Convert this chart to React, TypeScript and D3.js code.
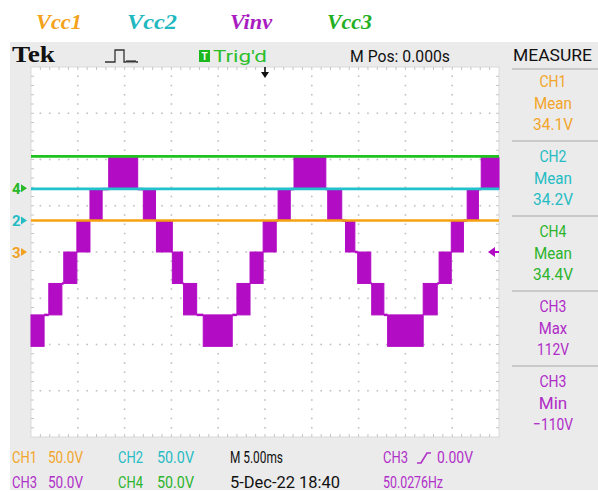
import React from 'react';
import * as d3 from 'd3';

const W = 598;
const H = 492;

// Scope settings
const timeDomainMs: [number, number] = [-25, 25]; // 5 ms/div, 10 divisions, M Pos 0
const voltsPerDiv = 50;
const hDivs = 10;
const vDivs = 8;

// DC supply channels (mean values and ground reference in screen volts)
const dcNames = ['CH1', 'CH2', 'CH4'];
const dcMeans = [34.1, 34.2, 34.4];
const dcGroundV = [0, 34, 69];
const dcMarkers = ['3', '2', '4'];
const dcColors = ['#f5a20f', '#22c2cc', '#1fc21f'];
const markerColors = ['#f2a020', '#26bcc4', '#28b828'];

// Multilevel inverter output (CH3): PWM bands between level k and k+1
const levelVolts = 34;
const stepStartMs = [-25.0, -23.1, -21.5, -20.1, -18.7, -16.7, -13.0, -11.6, -9.9, -8.7, -6.6, -3.0, -1.6, -0.2, 1.4, 3.1, 6.7, 8.6, 9.9, 11.4, 13.1, 16.9, 18.6, 19.9, 21.6, 23.1];
const stepEndMs = [-23.6, -21.7, -20.1, -18.7, -17.4, -13.6, -11.7, -9.9, -8.8, -7.3, -3.5, -1.6, -0.2, 1.2, 2.7, 6.5, 8.2, 9.6, 11.3, 12.7, 16.9, 18.4, 19.9, 21.2, 22.8, 25.0];
const stepLowLevel = [-3, -2, -1, 0, 1, 2, 1, 0, -1, -2, -3, -2, -1, 0, 1, 2, 1, 0, -1, -2, -3, -2, -1, 0, 1, 2];

// Legend labels above the screen
const legendLabels = ['Vcc1', 'Vcc2', 'Vinv', 'Vcc3'];
const legendColors = ['#f4a21a', '#22b8c0', '#a81cc0', '#22b022'];

// Measurements
const measureChannels = ['CH1', 'CH2', 'CH4', 'CH3', 'CH3'];
const measureTypes = ['Mean', 'Mean', 'Mean', 'Max', 'Min'];
const measureValues = ['34.1V', '34.2V', '34.4V', '112V', '\u2212110V'];
const measureColors = ['#f2a52a', '#26bcc4', '#2cb42c', '#b02cc8', '#b02cc8'];

const PURPLE = '#b20cc4';
const PURPLE_TXT = '#b030c8';
const FONT = 'Roboto, "Liberation Sans", sans-serif';

export default function App() {
  const left = 31, right = 499, top = 67, bottom = 437;
  const x = d3.scaleLinear().domain(timeDomainMs).range([left, right]);
  const y = d3.scaleLinear().domain([-voltsPerDiv * vDivs / 2, voltsPerDiv * vDivs / 2]).range([bottom, top]);

  const divW = (right - left) / hDivs;
  const divH = (bottom - top) / vDivs;

  const dots: JSX.Element[] = [];
  for (let i = 1; i < hDivs; i++) {
    const gx = left + i * divW;
    for (let j = 1; j < vDivs * 5; j++) {
      const gy = top + (j * divH) / 5;
      dots.push(<rect key={`v${i}-${j}`} x={gx - 0.8} y={gy - 0.8} width={1.6} height={1.6} fill="#c0c0c0" />);
    }
  }
  for (let j = 1; j < vDivs; j++) {
    const gy = top + j * divH;
    for (let i = 1; i < hDivs * 5; i++) {
      if (i % 5 === 0) continue;
      const gx = left + (i * divW) / 5;
      dots.push(<rect key={`h${j}-${i}`} x={gx - 0.8} y={gy - 0.8} width={1.6} height={1.6} fill="#c0c0c0" />);
    }
  }
  const ticks: JSX.Element[] = [];
  for (let i = 1; i < hDivs * 5; i++) {
    const gx = left + (i * divW) / 5;
    ticks.push(<line key={`tt${i}`} x1={gx} x2={gx} y1={top} y2={top + 3} stroke="#c4c4c4" strokeWidth={1} />);
    ticks.push(<line key={`tb${i}`} x1={gx} x2={gx} y1={bottom} y2={bottom - 3} stroke="#c4c4c4" strokeWidth={1} />);
  }
  for (let j = 1; j < vDivs * 5; j++) {
    const gy = top + (j * divH) / 5;
    ticks.push(<line key={`tl${j}`} x1={left} x2={left + 3} y1={gy} y2={gy} stroke="#c4c4c4" strokeWidth={1} />);
    ticks.push(<line key={`tr${j}`} x1={right} x2={right - 3} y1={gy} y2={gy} stroke="#c4c4c4" strokeWidth={1} />);
  }

  const connectors: [number, number, number][] = [];
  for (let i = 0; i < stepStartMs.length - 1; i++) {
    const shared = stepLowLevel[i + 1] > stepLowLevel[i] ? stepLowLevel[i + 1] : stepLowLevel[i];
    connectors.push([stepEndMs[i], stepStartMs[i + 1], shared]);
  }
  const line = d3.line<[number, number]>().x((d) => d[0]).y((d) => d[1]);

  const slopeIcon = 'M417,463 L421,463 L427,453 L431,453';

  return (
    <svg width={W} height={H} style={{ position: 'absolute', left: 0, top: 0, background: '#fff' }} fontFamily={FONT}>
      <rect x={0} y={0} width={W} height={H} fill="#ffffff" />
      {legendLabels.map((l, i) => (
        <text key={l} x={[36, 127, 230, 327][i]} y={29} fill={legendColors[i]} fontFamily='"Liberation Serif", serif' fontStyle="italic" fontWeight="bold" fontSize={21} textLength={[46, 50, 42, 45][i]} lengthAdjust="spacingAndGlyphs">{l}</text>
      ))}

      <rect x={10} y={42} width={W - 10} height={448} fill="#ebebeb" />
      <rect x={left} y={top} width={right - left} height={bottom - top} fill="#ffffff" />
      <rect x={left} y={top} width={right - left} height={bottom - top} fill="none" stroke="#dadada" strokeWidth={1} />
      {dots}
      {ticks}

      <text x={12} y={62} fontFamily='"Liberation Serif", serif' fontWeight="bold" fontSize={23} fill="#111" textLength={43} lengthAdjust="spacingAndGlyphs">Tek</text>
      <path d="M105,62 L115,62 L115,50 L124,50 L124,62 L126,62 Q127,60 128,62 Q129,60 130,62 Q131,60 132,62 Q133,60 134,62 Q135,60 136,62 L138,62" fill="none" stroke="#333" strokeWidth={1.3} />
      <rect x={199} y={50} width={11} height={12} fill="#1db81d" />
      <text x={204.5} y={60} textAnchor="middle" fill="#fff" fontSize={10} fontWeight="bold">T</text>
      <text x={213} y={62} fill="#2cbf2c" fontSize={16} textLength={54} lengthAdjust="spacingAndGlyphs">Trig'd</text>
      <text x={350} y={62} fill="#111" fontSize={16} textLength={100} lengthAdjust="spacingAndGlyphs">M Pos: 0.000s</text>
      <text x={513} y={61} fill="#111" fontSize={16} textLength={79} lengthAdjust="spacingAndGlyphs">MEASURE</text>
      <line x1={x(0)} x2={x(0)} y1={67} y2={73} stroke="#111" strokeWidth={1.6} />
      <path d={`M${x(0) - 4},72 L${x(0) + 4},72 L${x(0)},78 Z`} fill="#111" />

      {/* inverter output */}
      {connectors.map((c, i) => (
        <path key={`c${i}`} d={line([[x(c[0]), y(c[2] * levelVolts)], [x(c[1]), y(c[2] * levelVolts)]])!} stroke={PURPLE} strokeWidth={2.5} fill="none" />
      ))}
      {stepStartMs.map((s, i) => (
        <rect key={`s${i}`} x={x(s)} y={y((stepLowLevel[i] + 1) * levelVolts)} width={x(stepEndMs[i]) - x(s)} height={y(stepLowLevel[i] * levelVolts) - y((stepLowLevel[i] + 1) * levelVolts)} fill={PURPLE} stroke={PURPLE} strokeWidth={1} />
      ))}

      {/* DC traces, drawn over CH3 */}
      {dcNames.map((n, i) => (
        <line key={n} x1={left} x2={right} y1={y(dcGroundV[i] + dcMeans[i])} y2={y(dcGroundV[i] + dcMeans[i])} stroke={dcColors[i]} strokeWidth={2.6} />
      ))}

      {dcMarkers.map((m, i) => (
        <g key={m}>
          <text x={12} y={y(dcGroundV[i]) + 5.5} fill={markerColors[i]} fontSize={15} fontWeight="bold">{m}</text>
          <path d={`M21,${y(dcGroundV[i]) - 4} L27,${y(dcGroundV[i])} L21,${y(dcGroundV[i]) + 4} Z`} fill={markerColors[i]} />
        </g>
      ))}
      <path d={`M488,${y(0)} L495,${y(0) - 5} L495,${y(0) + 5} Z`} fill={PURPLE} />
      <line x1={494} x2={499} y1={y(0)} y2={y(0)} stroke={PURPLE} strokeWidth={2} />

      {[145, 220, 295, 370].map((sy) => (
        <line key={sy} x1={512} x2={598} y1={sy - 4} y2={sy - 4} stroke="#a8a8a8" strokeWidth={1.2} />
      ))}
      <line x1={512} x2={598} y1={69} y2={69} stroke="#a8a8a8" strokeWidth={1.2} />
      {measureChannels.map((c, i) => {
        const by = 87 + i * 75;
        return (
          <g key={i} fill={measureColors[i]} fontSize={17} textAnchor="middle">
            <text x={553} y={by} textLength={27} lengthAdjust="spacingAndGlyphs">{c}</text>
            <text x={553} y={by + 21.5} textLength={measureTypes[i].length * 9.5} lengthAdjust="spacingAndGlyphs">{measureTypes[i]}</text>
            <text x={553} y={by + 43} textLength={measureValues[i].length * 8} lengthAdjust="spacingAndGlyphs">{measureValues[i]}</text>
          </g>
        );
      })}

      <g fontSize={16}>
        <text x={12} y={463} fill="#f2a52a" textLength={25} lengthAdjust="spacingAndGlyphs">CH1</text>
        <text x={48} y={463} fill="#f2a52a" textLength={35} lengthAdjust="spacingAndGlyphs">50.0V</text>
        <text x={118} y={463} fill="#26bcc4" textLength={25} lengthAdjust="spacingAndGlyphs">CH2</text>
        <text x={157} y={463} fill="#26bcc4" textLength={37} lengthAdjust="spacingAndGlyphs">50.0V</text>
        <text x={230} y={463} fill="#111" textLength={53} lengthAdjust="spacingAndGlyphs">M 5.00ms</text>
        <text x={383} y={463} fill={PURPLE_TXT} textLength={25} lengthAdjust="spacingAndGlyphs">CH3</text>
        <path d={slopeIcon} fill="none" stroke={PURPLE_TXT} strokeWidth={1.6} />
        <text x={437} y={463} fill={PURPLE_TXT} textLength={36} lengthAdjust="spacingAndGlyphs">0.00V</text>

        <text x={12} y={488} fill={PURPLE_TXT} textLength={25} lengthAdjust="spacingAndGlyphs">CH3</text>
        <text x={48} y={488} fill={PURPLE_TXT} textLength={35} lengthAdjust="spacingAndGlyphs">50.0V</text>
        <text x={118} y={488} fill="#2cb42c" textLength={25} lengthAdjust="spacingAndGlyphs">CH4</text>
        <text x={157} y={488} fill="#2cb42c" textLength={37} lengthAdjust="spacingAndGlyphs">50.0V</text>
        <text x={230} y={488} fill="#111" textLength={110} lengthAdjust="spacingAndGlyphs">5-Dec-22 18:40</text>
        <text x={383} y={488} fill={PURPLE_TXT} textLength={60} lengthAdjust="spacingAndGlyphs">50.0276Hz</text>
      </g>
    </svg>
  );
}
